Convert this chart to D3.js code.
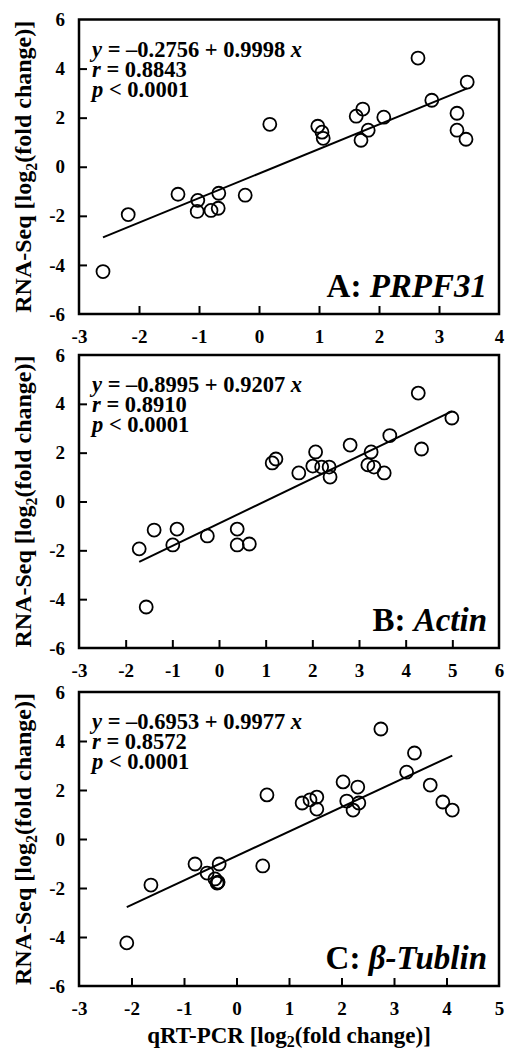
<!DOCTYPE html>
<html>
<head>
<meta charset="utf-8">
<script src="https://cdn.jsdelivr.net/npm/d3@7"></script>
<style>
  body { margin: 0; background: #fff; }
  text { font-family: "Liberation Serif", "Times New Roman", serif; font-weight: bold; fill: #000; }
</style>
</head>
<body>
<script>
// qRT-PCR (x) vs RNA-Seq (y), log2 fold change, normalised with three reference genes
var xA = [0.18, 0.98, 1.05, 1.07, 1.62, 1.73, 1.70, 1.82, 2.08, 2.65, 2.88, 3.47, 3.30, 3.30, 3.45,
          -1.35, -1.02, -1.03, -0.80, -0.67, -0.68, -0.23, -2.18, -2.60];
var yA = [1.73, 1.65, 1.41, 1.16, 2.06, 2.35, 1.08, 1.49, 2.02, 4.43, 2.71, 3.45, 2.18, 1.49, 1.12,
          -1.12, -1.37, -1.82, -1.78, -1.08, -1.69, -1.16, -1.95, -4.27];

var xB = [4.27, 4.99, 4.34, 3.66, 2.81, 3.26, 3.19, 3.32, 3.54, 2.07, 2.01, 2.20, 2.36, 2.38, 1.71, 1.14, 1.22,
          -1.71, -1.39, -0.90, -0.99, -0.25, 0.39, 0.39, 0.65, -1.56];
var yB = [4.44, 3.42, 2.15, 2.70, 2.31, 2.03, 1.50, 1.41, 1.17, 2.03, 1.45, 1.41, 1.41, 1.00, 1.17, 1.58, 1.74,
          -1.94, -1.17, -1.13, -1.78, -1.41, -1.13, -1.78, -1.74, -4.32];

var xC = [2.75, 3.39, 3.24, 3.69, 3.93, 4.11, 2.03, 2.31, 2.10, 2.33, 2.22, 1.25, 1.40, 1.53, 1.53, 0.58,
          -0.79, -0.33, -0.56, -0.41, -0.35, -0.37, -0.36, 0.50, -1.63, -2.09];
var yC = [4.49, 3.51, 2.73, 2.20, 1.51, 1.18, 2.33, 2.12, 1.55, 1.47, 1.18, 1.47, 1.60, 1.71, 1.22, 1.80,
          -1.02, -1.02, -1.39, -1.63, -1.76, -1.80, -1.78, -1.10, -1.88, -4.24];

var intercepts = [-0.2756, -0.8995, -0.6953];
var slopes = [0.9998, 0.9207, 0.9977];
var rValues = ["0.8843", "0.8910", "0.8572"];
var pText = "< 0.0001";
var panelLetters = ["A: ", "B: ", "C: "];
var geneNames = ["PRPF31", "Actin", "\u03B2-Tublin"];

var xTicksA = [-3, -2, -1, 0, 1, 2, 3, 4];
var xTicksB = [-3, -2, -1, 0, 1, 2, 3, 4, 5, 6];
var xTicksC = [-3, -2, -1, 0, 1, 2, 3, 4, 5];
var yTicks = [-6, -4, -2, 0, 2, 4, 6];

var W = 505, H = 1050;
var svg = d3.select("body").append("svg").attr("width", W).attr("height", H);

var left = 79, right = 499;
var frames = [{top: 19.5, bottom: 314}, {top: 355, bottom: 648}, {top: 692, bottom: 986}];

var panels = [
  {x: xA, y: yA, ticks: xTicksA},
  {x: xB, y: yB, ticks: xTicksB},
  {x: xC, y: yC, ticks: xTicksC}
];

panels.forEach(function(p, i) {
  var f = frames[i];
  var x = d3.scaleLinear().domain(d3.extent(p.ticks)).range([left, right]);
  var y = d3.scaleLinear().domain([-6, 6]).range([f.bottom, f.top]);
  var g = svg.append("g");

  var xAxis = d3.axisBottom(x).tickValues(p.ticks).tickSizeInner(-8).tickSizeOuter(0)
                .tickPadding(16).tickFormat(String);
  var gx = g.append("g").attr("transform", "translate(0," + f.bottom + ")").call(xAxis);
  var yAxis = d3.axisLeft(y).tickValues(yTicks).tickSizeInner(-8).tickSizeOuter(0)
                .tickPadding(14).tickFormat(String);
  var gy = g.append("g").attr("transform", "translate(" + left + ",0)").call(yAxis);

  [gx, gy].forEach(function(a) {
    a.select(".domain").remove();
    a.selectAll(".tick line").attr("stroke", "#000").attr("stroke-width", 2);
    a.selectAll(".tick text").style("font-size", "19px").style("font-family", "Liberation Serif");
  });
  // ticks at the frame corners are hidden by the frame anyway
  gx.selectAll(".tick line").filter(function(d) { return d === x.domain()[0] || d === x.domain()[1]; }).remove();
  gy.selectAll(".tick line").filter(function(d) { return d === -6 || d === 6; }).remove();

  g.append("rect")
    .attr("x", left).attr("y", f.top)
    .attr("width", right - left).attr("height", f.bottom - f.top)
    .attr("fill", "none").attr("stroke", "#000").attr("stroke-width", 2.5);

  // regression line over the range of the data
  var ext = d3.extent(p.x);
  var a = intercepts[i], b = slopes[i];
  var line = d3.line().x(function(d) { return x(d); }).y(function(d) { return y(a + b * d); });
  g.append("path").attr("d", line(ext)).attr("fill", "none")
    .attr("stroke", "#000").attr("stroke-width", 2);

  g.selectAll("circle").data(p.x).enter().append("circle")
    .attr("cx", function(d) { return x(d); })
    .attr("cy", function(d, j) { return y(p.y[j]); })
    .attr("r", 6.5)
    .attr("fill", "none")
    .attr("stroke", "#000").attr("stroke-width", 1.8);

  // equation block
  var eq = g.append("text").attr("x", 92).attr("y", f.top + 37).style("font-size", "22.5px");
  eq.append("tspan").style("font-style", "italic").text("y");
  eq.append("tspan").text(" = \u2013" + Math.abs(a).toFixed(4) + " + " + b.toFixed(4) + " ");
  eq.append("tspan").style("font-style", "italic").text("x");

  var rt = g.append("text").attr("x", 92).attr("y", f.top + 57).style("font-size", "22.5px");
  rt.append("tspan").style("font-style", "italic").text("r");
  rt.append("tspan").text(" = " + rValues[i]);

  var pt = g.append("text").attr("x", 92).attr("y", f.top + 77).style("font-size", "22.5px");
  pt.append("tspan").style("font-style", "italic").text("p");
  pt.append("tspan").text(" " + pText);

  var lab = g.append("text").attr("x", 487).attr("y", f.bottom - 17)
    .attr("text-anchor", "end").style("font-size", "33px");
  lab.append("tspan").text(panelLetters[i]);
  lab.append("tspan").style("font-style", "italic").text(geneNames[i]);

  // y axis title
  var yt = g.append("text")
    .attr("transform", "translate(31," + ((f.top + f.bottom) / 2) + ") rotate(-90)")
    .attr("text-anchor", "middle").style("font-size", "24px");
  yt.append("tspan").text("RNA-Seq [log");
  yt.append("tspan").attr("dy", 6).style("font-size", "16px").text("2");
  yt.append("tspan").attr("dy", -6).text("(fold change)]");
});

var xt = svg.append("text").attr("x", 289).attr("y", 1043)
  .attr("text-anchor", "middle").style("font-size", "23px");
xt.append("tspan").text("qRT-PCR [log");
xt.append("tspan").attr("dy", 4).style("font-size", "16px").text("2");
xt.append("tspan").attr("dy", -4).text("(fold change)]");
</script>
</body>
</html>
